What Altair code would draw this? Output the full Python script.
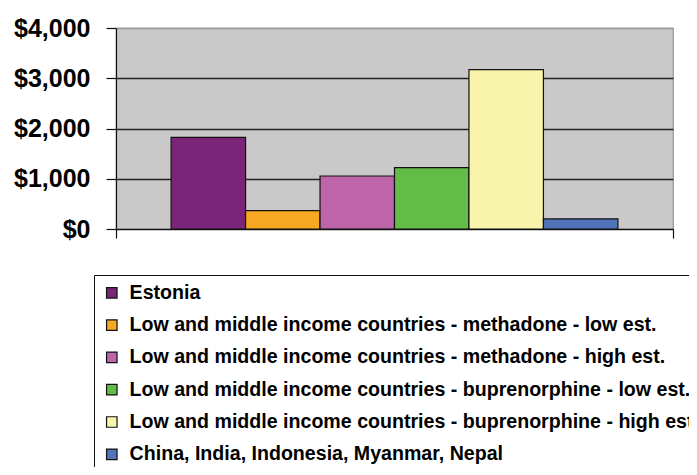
import altair as alt
import pandas as pd

series = [
    "Estonia",
    "Low and middle income countries - methadone - low est.",
    "Low and middle income countries - methadone - high est.",
    "Low and middle income countries - buprenorphine - low est.",
    "Low and middle income countries - buprenorphine - high est.",
    "China, India, Indonesia, Myanmar, Nepal",
]
values = [1825, 364, 1055, 1220, 3170, 200]
colors = ["#7A2577", "#F7A823", "#BE64A8", "#63BC47", "#F8F4AC", "#5173B9"]
y_ticks = [0, 1000, 2000, 3000, 4000]
edge = [0, 1]

df = pd.DataFrame({"series": series, "value": values})
edge_df = pd.DataFrame({"edge": edge})

bars = alt.Chart(df).mark_bar(stroke="#111", strokeWidth=1.2).encode(
    x=alt.X("series:N", sort=series, axis=None,
            scale=alt.Scale(paddingInner=0, paddingOuter=0.74)),
    y=alt.Y("value:Q", scale=alt.Scale(domain=[0, 4000], nice=False),
            axis=alt.Axis(values=y_ticks, format="$,d", title=None,
                          labelFont="Liberation Sans", labelFontWeight="bold",
                          labelFontSize=25, labelColor="black",
                          tickSize=10, tickColor="#111", tickWidth=1.2,
                          labelPadding=16, domainColor="#111", domainWidth=1.2,
                          grid=True,
                          gridColor=alt.condition("datum.value == 4000", alt.value("#999"), alt.value("#222")),
                          gridWidth=1.3)),
    color=alt.Color("series:N", sort=series,
                    scale=alt.Scale(domain=series, range=colors),
                    legend=alt.Legend(title=None, orient="none", legendX=-22, legendY=247,
                                      direction="vertical", symbolType="square",
                                      symbolSize=110, symbolStrokeColor="#111",
                                      symbolStrokeWidth=1.2,
                                      labelFont="Liberation Sans",
                                      labelFontWeight="bold", labelFontSize=19.6,
                                      labelColor="black", labelLimit=1000,
                                      labelOffset=8, rowPadding=11.3, padding=8,
                                      strokeColor="#111", fillColor="white")),
)

xaxis = alt.Chart(edge_df).mark_point(opacity=0).encode(
    x=alt.X("edge:Q", scale=alt.Scale(domain=[0, 1], nice=False, zero=False),
            axis=alt.Axis(values=edge, labels=False, title=None, grid=False,
                          tickSize=9, tickColor="#111", tickWidth=1.2,
                          domainColor="#111", domainWidth=1.2)),
)

chart = alt.layer(bars, xaxis).resolve_scale(x="independent").properties(
    width=557, height=201,
    autosize=alt.AutoSizeParams(type="none"),
    padding={"left": 108, "top": 20, "right": 16, "bottom": 238},
    background="white",
).configure_view(fill="#C9C9C9", stroke="#999", strokeWidth=1.2)

chart.save("out.html", embed_options={"renderer": "svg", "actions": False})
